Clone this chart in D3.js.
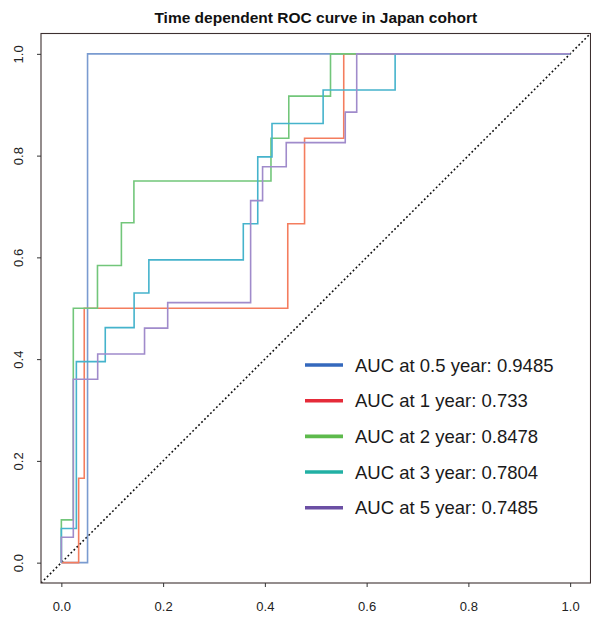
<!DOCTYPE html>
<html>
<head>
<meta charset="utf-8">
<script src="https://cdn.jsdelivr.net/npm/d3@7"></script>
<style>
  html, body { margin: 0; padding: 0; background: #fff; }
  svg { display: block; font-family: "Liberation Sans", Arial, sans-serif; }
</style>
</head>
<body>
<svg id="chart" width="591" height="618"></svg>
<script>
// Time-dependent ROC curves (false positive rate vs true positive rate),
// one per prediction horizon. Each list holds the ROC vertices; the curve
// steps horizontally to the next FPR, then vertically to the next TPR.
const seriesNames = ["0.5 year", "1 year", "2 year", "3 year", "5 year"];
const aucValues = ["0.9485", "0.733", "0.8478", "0.7804", "0.7485"];

const fpr05 = [0, 0.0515, 1];
const tpr05 = [0, 1, 1];

const fpr1 = [0, 0.034, 0.045, 0.445, 0.478, 0.555, 1];
const tpr1 = [0, 0.166, 0.5, 0.666, 0.834, 1, 1];

const fpr2 = [0, 0, 0.0235, 0.071, 0.118, 0.1426, 0.412, 0.447, 0.529, 1];
const tpr2 = [0, 0.084, 0.5, 0.584, 0.668, 0.75, 0.834, 0.917, 1, 1];

const fpr3 = [0, 0, 0.0295, 0.0863, 0.143, 0.172, 0.3576, 0.386, 0.414, 0.5145, 0.656, 1];
const tpr3 = [0, 0.067, 0.395, 0.462, 0.53, 0.595, 0.666, 0.7975, 0.863, 0.929, 1, 1];

const fpr5 = [0, 0, 0.0235, 0.0714, 0.1635, 0.209, 0.372, 0.3955, 0.442, 0.558, 0.5805, 1];
const tpr5 = [0, 0.05, 0.3605, 0.41, 0.461, 0.511, 0.7116, 0.778, 0.8256, 0.8854, 1, 1];

const tickValues = [0, 0.2, 0.4, 0.6, 0.8, 1.0];
const tickLabels = ["0.0", "0.2", "0.4", "0.6", "0.8", "1.0"];
const titleText = "Time dependent ROC curve in Japan cohort";

const fprList = [fpr05, fpr1, fpr2, fpr3, fpr5];
const tprList = [tpr05, tpr1, tpr2, tpr3, tpr5];
const curveColors = ["#7a9bd0", "#f47d5e", "#72c67a", "#45b3cc", "#a08bcb"];
const legendColors = ["#3468bd", "#e52b39", "#5dba4c", "#22b0a4", "#6b4fa4"];

const svg = d3.select("#chart");

const plot = { left: 41, right: 590.5, top: 33.5, bottom: 583 };
const x = d3.scaleLinear().domain([-0.04, 1.04]).range([plot.left, plot.right]);
const y = d3.scaleLinear().domain([-0.04, 1.04]).range([plot.bottom, plot.top]);

svg.append("defs").append("clipPath").attr("id", "plot-clip")
  .append("rect")
  .attr("x", plot.left).attr("y", plot.top)
  .attr("width", plot.right - plot.left).attr("height", plot.bottom - plot.top);

// Title
svg.append("text")
  .attr("x", (plot.left + plot.right) / 2)
  .attr("y", 17.5)
  .attr("text-anchor", "middle")
  .attr("dominant-baseline", "central")
  .attr("font-weight", "bold")
  .attr("font-size", "15.5px")
  .attr("fill", "#111")
  .text(titleText);

// Reference diagonal
const g = svg.append("g").attr("clip-path", "url(#plot-clip)");
g.append("line")
  .attr("x1", x(-0.04)).attr("y1", y(-0.04))
  .attr("x2", x(1.04)).attr("y2", y(1.04))
  .attr("stroke", "#111")
  .attr("stroke-width", 1.6)
  .attr("stroke-dasharray", "1.8,2.4");

// ROC curves
const line = d3.line()
  .x(d => x(d[0]))
  .y(d => y(d[1]))
  .curve(d3.curveStepAfter);

fprList.forEach((fp, i) => {
  const pts = fp.map((v, j) => [v, tprList[i][j]]);
  g.append("path")
    .datum(pts)
    .attr("d", line)
    .attr("fill", "none")
    .attr("stroke", curveColors[i])
    .attr("stroke-width", 1.6);
});

// Plot box
svg.append("rect")
  .attr("x", plot.left).attr("y", plot.top)
  .attr("width", plot.right - plot.left).attr("height", plot.bottom - plot.top)
  .attr("fill", "none")
  .attr("stroke", "#3d3030")
  .attr("stroke-width", 1.1);

// Axes
const xAxis = d3.axisBottom(x)
  .tickValues(tickValues)
  .tickFormat((d, i) => tickLabels[i])
  .tickSize(4)
  .tickPadding(15);
const xg = svg.append("g").attr("transform", `translate(0,${plot.bottom})`).call(xAxis);
xg.select(".domain").remove();
xg.selectAll(".tick line").attr("stroke", "#333");
xg.selectAll(".tick text").attr("font-size", "13px").attr("fill", "#222")
  .attr("font-family", "Liberation Sans, Arial, sans-serif");

const yAxis = d3.axisLeft(y)
  .tickValues(tickValues)
  .tickFormat((d, i) => tickLabels[i])
  .tickSize(4);
const yg = svg.append("g").attr("transform", `translate(${plot.left},0)`).call(yAxis);
yg.select(".domain").remove();
yg.selectAll(".tick line").attr("stroke", "#333");
yg.selectAll(".tick text")
  .attr("font-size", "13px").attr("fill", "#222")
  .attr("font-family", "Liberation Sans, Arial, sans-serif")
  .attr("x", null).attr("dy", null)
  .attr("text-anchor", "middle")
  .attr("dominant-baseline", "central")
  .attr("transform", `translate(${18 - plot.left},0) rotate(-90)`);

// Legend
const legendY = d3.scalePoint().domain(seriesNames).range([365, 507.7]);
const legend = svg.append("g");
seriesNames.forEach((name, i) => {
  const ly = legendY(name);
  legend.append("line")
    .attr("x1", 305).attr("x2", 343)
    .attr("y1", ly).attr("y2", ly)
    .attr("stroke", legendColors[i])
    .attr("stroke-width", 3.6);
  legend.append("text")
    .attr("x", 355).attr("y", ly)
    .attr("dominant-baseline", "central")
    .attr("font-size", "18.5px")
    .attr("fill", "#1a1a1a")
    .text(`AUC at ${name}: ${aucValues[i]}`);
});
</script>
</body>
</html>
